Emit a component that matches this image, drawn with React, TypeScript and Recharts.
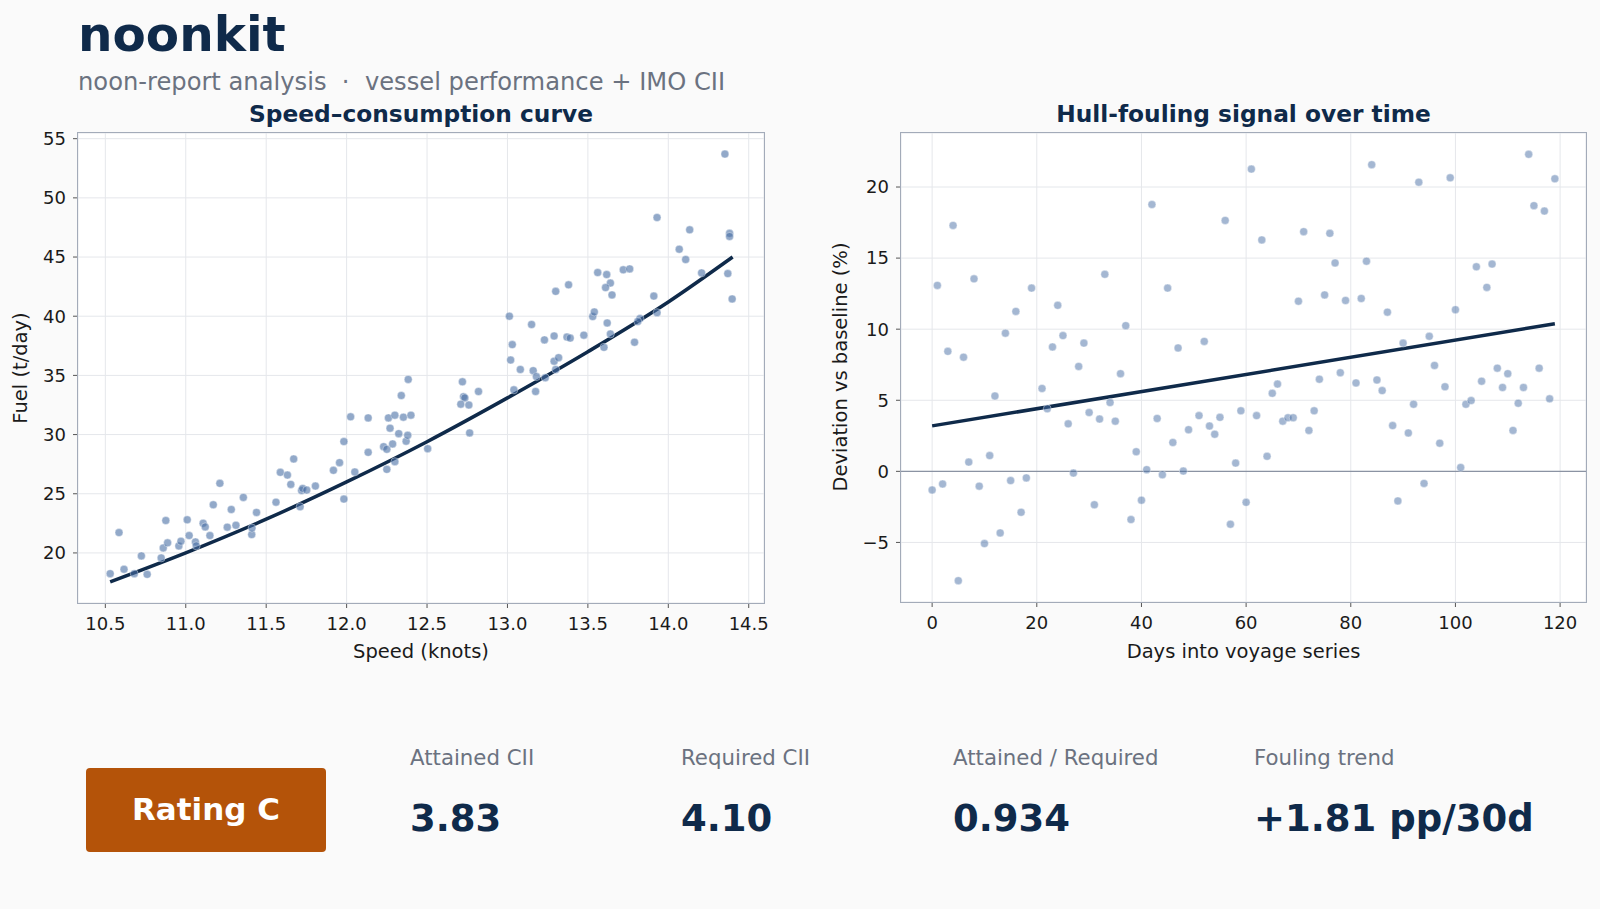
import { ComposedChart, Scatter, Line, XAxis, YAxis, CartesianGrid, ReferenceLine } from 'recharts';

// noon reports: speed over ground vs daily fuel
const speeds = [
  10.53, 10.585, 10.616, 10.68, 10.724, 10.76, 10.847, 10.86, 10.876, 10.887,
  10.957, 10.97, 11.009, 11.021, 11.06, 11.065, 11.108, 11.121, 11.15, 11.171,
  11.212, 11.258, 11.283, 11.312, 11.358, 11.41, 11.412, 11.44, 11.561, 11.588,
  11.632, 11.653, 11.671, 11.711, 11.72, 11.727, 11.752, 11.806, 11.918, 11.956,
  11.983, 11.983, 12.025, 12.051, 12.134, 12.134, 12.23, 12.25, 12.25, 12.26,
  12.27, 12.286, 12.3, 12.3, 12.324, 12.34, 12.353, 12.37, 12.38, 12.383,
  12.4, 12.504, 12.72, 12.727, 12.735, 12.71, 12.76, 12.82, 12.765, 13.04,
  13.08, 13.16, 13.18, 13.175, 13.235, 13.29, 13.3, 13.02, 14.352, 13.93,
  14.133, 14.381, 14.381, 14.068, 14.108, 14.207, 14.37, 14.397, 13.561, 13.617,
  13.64, 13.61, 13.65, 13.72, 13.76, 13.91, 13.93, 13.824, 13.81, 13.79,
  13.3, 13.38, 13.012, 13.03, 13.15, 13.23, 13.29, 13.37, 13.39, 13.475,
  13.53, 13.54, 13.62, 13.64, 13.6, 13.318,
];
const fuel = [
  18.25, 21.72, 18.62, 18.25, 19.75, 18.19, 19.58, 20.42, 22.74, 20.85,
  20.59, 20.99, 22.8, 21.47, 20.93, 20.6, 22.51, 22.2, 21.47, 24.07,
  25.88, 22.18, 23.67, 22.34, 24.69, 21.55, 22.1, 23.42, 24.29, 26.81,
  26.58, 25.79, 27.94, 23.9, 25.28, 25.45, 25.31, 25.65, 26.98, 27.63,
  29.41, 24.55, 31.5, 26.84, 31.41, 28.5, 28.98, 28.76, 27.06, 31.41,
  30.54, 29.21, 27.71, 31.64, 30.08, 33.3, 31.47, 29.44, 29.94, 34.66,
  31.64, 28.81, 34.46, 33.2, 33.1, 32.57, 32.5, 33.64, 30.14, 33.78,
  35.5, 35.4, 34.9, 33.64, 34.8, 36.2, 35.5, 36.3, 53.7, 48.34,
  47.3, 47.0, 46.74, 45.66, 44.79, 43.66, 43.6, 41.46, 43.69, 43.52,
  42.8, 42.42, 41.8, 43.92, 44.0, 41.7, 40.3, 39.8, 39.55, 37.8,
  42.1, 42.65, 40.0, 37.6, 39.3, 38.0, 38.33, 38.24, 38.15, 38.4,
  39.97, 40.36, 39.43, 38.5, 37.37, 36.5,
];

// fitted speed-consumption curve
const curveSpeeds = [10.53, 11.0, 11.5, 12.0, 12.5, 13.0, 13.5, 14.0, 14.4];
const curveFuel = [17.55, 20.0, 22.85, 26.0, 29.4, 33.1, 37.0, 41.2, 45.0];

// daily deviation of fuel from the clean-hull baseline
const days = [
  0, 1, 2, 3, 4, 5, 6, 7, 8, 9, 10, 11, 12, 13, 14, 15, 16, 17, 18, 19,
  21, 22, 23, 24, 25, 26, 27, 28, 29, 30, 31, 32, 33, 34, 35, 36, 37, 38, 39, 40,
  41, 42, 43, 44, 45, 46, 47, 48, 49, 51, 52, 53, 54, 55, 56, 57, 58, 59, 60,
  61, 62, 63, 64, 65, 66, 67, 68, 69, 70, 71, 72, 73, 74, 75, 76, 77, 78, 79,
  81, 82, 83, 84, 85, 86, 87, 88, 89, 90, 91, 92, 93, 94, 95, 96, 97, 98, 99,
  100, 101, 102, 103, 104, 105, 106, 107, 108, 109, 110, 111, 112, 113, 114, 115, 116, 117, 118, 119,
];
const deviation = [
  -1.31, 13.08, -0.89, 8.44, 17.3, -7.69, 8.03, 0.65, 13.54, -1.04, -5.08, 1.11, 5.3, -4.33, 9.72, -0.65, 11.25, -2.88, -0.46, 12.89,
  5.83, 4.4, 8.75, 11.68, 9.55, 3.34, -0.12, 7.38, 9.02, 4.14, -2.35, 3.68, 13.86, 4.84, 3.53, 6.87, 10.25, -3.39, 1.38, -2.03,
  0.12, 18.77, 3.72, -0.24, 12.89, 2.03, 8.68, 0.02, 2.93, 3.92, 9.14, 3.19, 2.61, 3.8, 17.65, -3.72, 0.58, 4.26, -2.18,
  21.26, 3.92, 16.28, 1.06, 5.49, 6.14, 3.53, 3.77, 3.77, 11.97, 16.86, 2.88, 4.26, 6.48, 12.41, 16.74, 14.66, 6.94, 12.02,
  6.22, 12.16, 14.78, 21.57, 6.43, 5.68, 11.2, 3.22, -2.08, 9.02, 2.7, 4.72, 20.34, -0.85, 9.5, 7.45, 1.98, 5.95, 20.65,
  11.37, 0.27, 4.72, 4.98, 14.39, 6.34, 12.94, 14.58, 7.26, 5.9, 6.87, 2.88, 4.79, 5.9, 22.3, 18.69, 7.26, 18.31, 5.1, 20.58,
];

// linear fouling trend
const trendDays = [0, 119];
const trendDeviation = [3.2, 10.38];

const speedTicks = [10.5, 11, 11.5, 12, 12.5, 13, 13.5, 14, 14.5];
const fuelTicks = [20, 25, 30, 35, 40, 45, 50, 55];
const dayTicks = [0, 20, 40, 60, 80, 100, 120];
const deviationTicks = [-5, 0, 5, 10, 15, 20];

const kpis = [
  { label: 'Attained CII', value: '3.83', x: 410 },
  { label: 'Required CII', value: '4.10', x: 681 },
  { label: 'Attained / Required', value: '0.934', x: 953 },
  { label: 'Fouling trend', value: '+1.81 pp/30d', x: 1254 },
];

const FONT = '"DejaVu Sans", sans-serif';
const NAVY = '#0f2a4a';
const GREY = '#6b7280';
const POINT = '#4a6fa5';
const INK = '#1a1a1a';

const zip = (xs: number[], ys: number[]) => xs.map((x, i) => ({ x, y: ys[i] }));

const tickStyle = { fontSize: 18, fill: INK, fontFamily: FONT };

const dot = (opacity: number) => (props: any) => (
  <circle cx={props.cx} cy={props.cy} r={4} fill={POINT} fillOpacity={opacity} stroke="#fff" strokeWidth={0.4} />
);

function SpeedChart() {
  return (
    <ComposedChart width={800} height={580} margin={{ top: 33, right: 36, bottom: 27, left: 18 }}>
      <CartesianGrid stroke="#e5e7eb" fill="#fff" />
      <XAxis
        type="number"
        dataKey="x"
        domain={[10.33, 14.595]}
        ticks={speedTicks}
        allowDataOverflow
        tickFormatter={(v: number) => v.toFixed(1)}
        tick={tickStyle}
        tickSize={5}
        tickMargin={9}
        axisLine={false}
        tickLine={{ stroke: '#555' }}
        height={50}
      />
      <YAxis
        type="number"
        dataKey="y"
        domain={[15.77, 55.48]}
        ticks={fuelTicks}
        allowDataOverflow
        tick={tickStyle}
        tickSize={5}
        tickMargin={7}
        axisLine={false}
        tickLine={{ stroke: '#555' }}
        width={60}
      />
      <Scatter data={zip(speeds, fuel)} shape={dot(0.6)} isAnimationActive={false} />
      <Line
        data={zip(curveSpeeds, curveFuel)}
        dataKey="y"
        type="monotone"
        stroke={NAVY}
        strokeWidth={3.5}
        dot={false}
        activeDot={false}
        isAnimationActive={false}
      />
    </ComposedChart>
  );
}

function FoulingChart() {
  return (
    <ComposedChart width={780} height={580} margin={{ top: 33, right: 14, bottom: 28, left: 21 }}>
      <CartesianGrid stroke="#e5e7eb" fill="#fff" />
      <XAxis
        type="number"
        dataKey="x"
        domain={[-5.95, 124.95]}
        ticks={dayTicks}
        allowDataOverflow
        tick={tickStyle}
        tickSize={5}
        tickMargin={9}
        axisLine={false}
        tickLine={{ stroke: '#555' }}
        height={50}
      />
      <YAxis
        type="number"
        dataKey="y"
        domain={[-9.19, 23.8]}
        ticks={deviationTicks}
        allowDataOverflow
        tickFormatter={(v: number) => String(v).replace('-', '\u2212')}
        tick={tickStyle}
        tickSize={5}
        tickMargin={7}
        axisLine={false}
        tickLine={{ stroke: '#555' }}
        width={60}
      />
      <ReferenceLine y={0} stroke="#8b93a3" strokeWidth={1.3} />
      <Scatter data={zip(days, deviation)} shape={dot(0.5)} isAnimationActive={false} />
      <Line
        data={zip(trendDays, trendDeviation)}
        dataKey="y"
        type="linear"
        stroke={NAVY}
        strokeWidth={3.5}
        dot={false}
        activeDot={false}
        isAnimationActive={false}
      />
    </ComposedChart>
  );
}

const frame = (left: number, top: number, width: number, height: number) => (
  <div
    style={{
      position: 'absolute',
      left: left - 1,
      top: top - 1,
      width,
      height,
      border: '1px solid #a3abb9',
      pointerEvents: 'none',
    }}
  />
);

export default function App() {
  return (
    <div style={{ position: 'absolute', left: 0, top: 0, width: 1600, height: 909, background: '#fafafa', fontFamily: FONT }}>
      <div style={{ position: 'absolute', left: 0, top: 100 }}>
        <SpeedChart />
      </div>
      <div style={{ position: 'absolute', left: 820, top: 100 }}>
        <FoulingChart />
      </div>
      {frame(78, 133, 686, 470)}
      {frame(901, 133, 685, 469)}

      <svg width={1600} height={909} style={{ position: 'absolute', left: 0, top: 0, pointerEvents: 'none' }} fontFamily={FONT}>
        <text x={78} y={51} fontSize={48.5} fontWeight="bold" fill={NAVY}>noonkit</text>
        <text x={78} y={90} fontSize={24.2} fill={GREY} style={{ whiteSpace: 'pre' }}>
          {'noon-report analysis  \u00b7  vessel performance + IMO CII'}
        </text>

        <text x={421} y={122} fontSize={23.3} fontWeight="bold" fill={NAVY} textAnchor="middle">Speed–consumption curve</text>
        <text x={1243.5} y={122} fontSize={23.3} fontWeight="bold" fill={NAVY} textAnchor="middle">Hull-fouling signal over time</text>

        <text x={421} y={658} fontSize={19.5} fill={INK} textAnchor="middle">Speed (knots)</text>
        <text x={1243.5} y={658} fontSize={19.5} fill={INK} textAnchor="middle">Days into voyage series</text>
        <text transform="translate(27 368) rotate(-90)" fontSize={19.5} fill={INK} textAnchor="middle">Fuel (t/day)</text>
        <text transform="translate(847 367) rotate(-90)" fontSize={19.5} fill={INK} textAnchor="middle">Deviation vs baseline (%)</text>

        <rect x={86} y={768} width={240} height={84} rx={4} fill="#b45309" />
        <text x={206} y={820} fontSize={31} fontWeight="bold" fill="#fff" textAnchor="middle">Rating C</text>

        {kpis.map((k) => (
          <g key={k.label}>
            <text x={k.x} y={765} fontSize={21.3} fill={GREY}>{k.label}</text>
            <text x={k.x} y={831} fontSize={37} fontWeight="bold" fill={NAVY}>{k.value}</text>
          </g>
        ))}
      </svg>
    </div>
  );
}
